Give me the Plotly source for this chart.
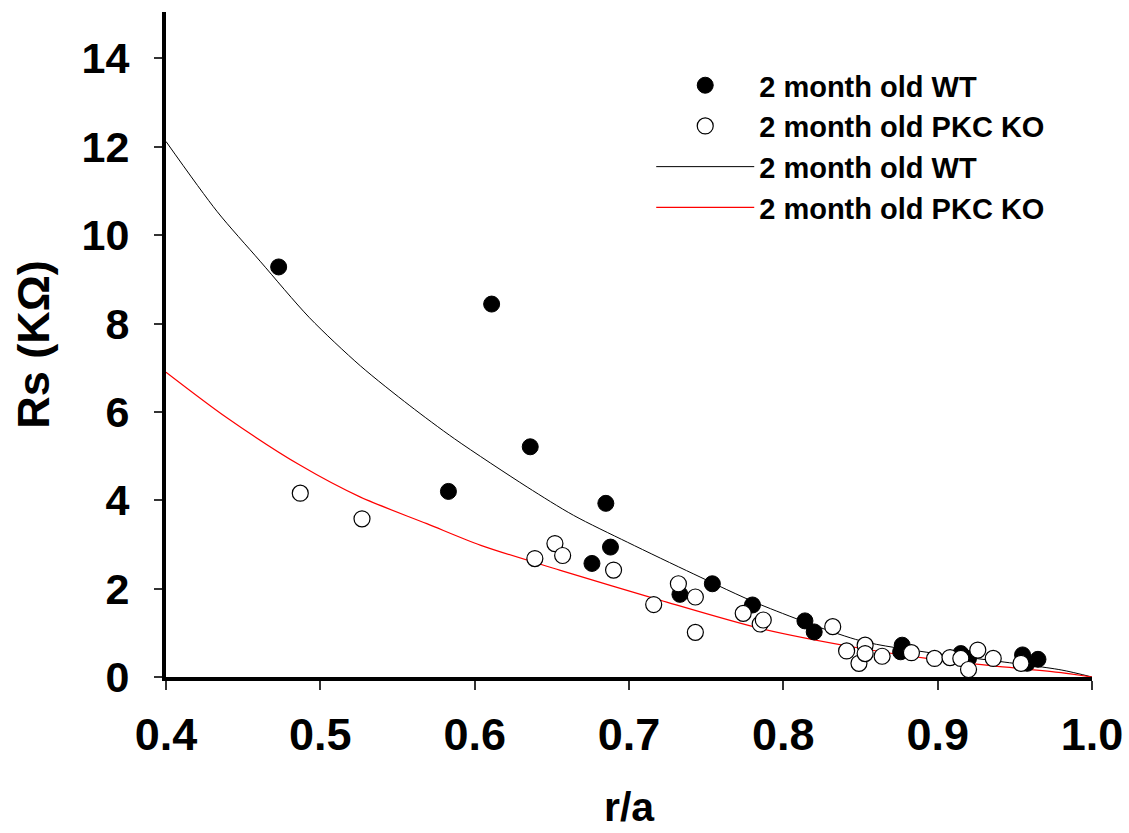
import plotly.graph_objects as go

# Measured points (r/a, Rs in kOhm)
wt_x = [0.473, 0.583, 0.611, 0.636, 0.676, 0.685, 0.688, 0.733, 0.754, 0.780,
        0.814, 0.820, 0.876, 0.877, 0.915, 0.920, 0.955, 0.958, 0.965]
wt_y = [9.28, 4.20, 8.44, 5.21, 2.57, 3.93, 2.94, 1.87, 2.11, 1.63,
        1.27, 1.02, 0.57, 0.72, 0.53, 0.42, 0.50, 0.31, 0.40]

ko_x = [0.487, 0.527, 0.639, 0.652, 0.657, 0.690, 0.716, 0.732, 0.743, 0.743,
        0.774, 0.785, 0.787, 0.832, 0.841, 0.849, 0.853, 0.853, 0.864, 0.883,
        0.898, 0.908, 0.915, 0.920, 0.926, 0.936, 0.954]
ko_y = [4.16, 3.58, 2.68, 3.02, 2.75, 2.42, 1.64, 2.11, 1.81, 1.01,
        1.44, 1.20, 1.29, 1.14, 0.59, 0.31, 0.72, 0.53, 0.47, 0.55,
        0.42, 0.44, 0.42, 0.17, 0.61, 0.42, 0.31]

# Fitted curves
wt_fit_x = [0.400, 0.433, 0.461, 0.493, 0.526, 0.558, 0.587, 0.634, 0.664, 0.699,
            0.742, 0.785, 0.850, 0.893, 0.936, 0.980, 1.000]
wt_fit_y = [12.12, 10.54, 9.41, 8.13, 7.04, 6.14, 5.39, 4.30, 3.66, 3.05,
            2.33, 1.64, 0.82, 0.56, 0.37, 0.16, 0.00]

ko_fit_x = [0.400, 0.439, 0.487, 0.526, 0.569, 0.604, 0.655, 0.720, 0.785, 0.850,
            0.893, 0.936, 0.980, 1.000]
ko_fit_y = [6.90, 5.88, 4.79, 4.07, 3.47, 2.98, 2.42, 1.74, 1.10, 0.65,
            0.42, 0.25, 0.10, 0.00]

x_ticks = [0.4, 0.5, 0.6, 0.7, 0.8, 0.9, 1.0]
y_ticks = [0, 2, 4, 6, 8, 10, 12, 14]

label_wt = "2 month old WT"
label_ko = "2 month old PKC KO"
x_title = "r/a"
y_title = "Rs (KΩ)"

FONT = "Liberation Sans, Arial, sans-serif"

fig = go.Figure()

fig.add_trace(go.Scatter(
    x=wt_fit_x, y=wt_fit_y, mode="lines", name=label_wt, legendrank=3,
    line=dict(color="black", width=1, shape="spline", smoothing=0.8),
))
fig.add_trace(go.Scatter(
    x=ko_fit_x, y=ko_fit_y, mode="lines", name=label_ko, legendrank=4,
    line=dict(color="red", width=1.2, shape="spline", smoothing=0.8),
))
fig.add_trace(go.Scatter(
    x=wt_x, y=wt_y, mode="markers", name=label_wt, legendrank=1,
    marker=dict(symbol="circle", size=16, color="black",
                line=dict(color="black", width=1)),
))
fig.add_trace(go.Scatter(
    x=ko_x, y=ko_y, mode="markers", name=label_ko, legendrank=2,
    marker=dict(symbol="circle", size=16, color="white",
                line=dict(color="black", width=1.2)),
))

fig.add_annotation(
    text=x_title, xref="paper", yref="paper", x=0.5, y=-0.232,
    xanchor="center", yanchor="bottom", showarrow=False, borderpad=0,
    font=dict(family=FONT, size=41, weight="bold", color="black"),
)

fig.update_layout(
    width=1129, height=833,
    margin=dict(l=166, r=37, t=12, b=156),
    paper_bgcolor="white", plot_bgcolor="white",
    font=dict(family=FONT, color="black"),
    showlegend=True,
    legend=dict(
        x=0.524, y=0.928, xanchor="left", yanchor="top",
        bgcolor="rgba(0,0,0,0)", itemwidth=98, tracegroupgap=0,
        font=dict(family=FONT, size=29, weight="bold", color="black"),
        itemsizing="trace",
    ),
    xaxis=dict(
        range=[0.4, 1.0], tickvals=x_ticks, tickformat=".1f",
        showgrid=False, zeroline=False, automargin=False,
        showline=True, linecolor="black", linewidth=4,
        ticks="outside", ticklen=9, tickwidth=1.5, tickcolor="#333",
        tickfont=dict(family=FONT, size=45, weight="bold", color="black"),
        ticklabelstandoff=6,
    ),
    yaxis=dict(
        range=[0, 15.05], tickvals=y_ticks,
        showgrid=False, zeroline=False, automargin=False,
        showline=True, linecolor="black", linewidth=4,
        ticks="outside", ticklen=8, tickwidth=1.5, tickcolor="#333",
        tickfont=dict(family=FONT, size=43, weight="bold", color="black"),
        ticklabelstandoff=16,
        title=dict(text=y_title, font=dict(family=FONT, size=45, weight="bold", color="black"),
                   standoff=19),
    ),
)

fig.write_html("out.html")
